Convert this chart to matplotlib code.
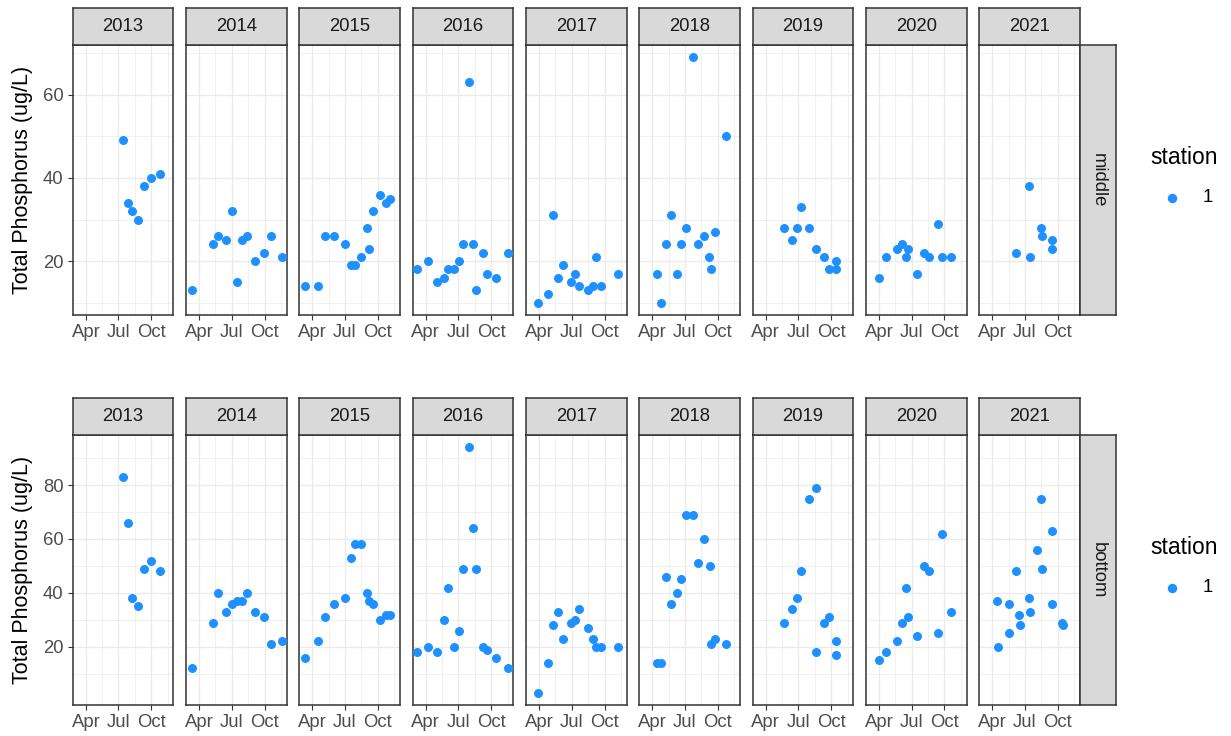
import pandas as pd
import matplotlib
matplotlib.use("Agg")
import matplotlib.pyplot as plt
from matplotlib.lines import Line2D

plt.rcParams["font.family"] = ["Liberation Sans", "DejaVu Sans"]

# Total phosphorus, station 1, by sampling date
mid_dates = [
    "2013-07-15", "2013-07-28", "2013-08-08", "2013-08-25", "2013-09-11", "2013-09-30", "2013-10-24",
    "2014-03-13", "2014-05-10", "2014-05-23", "2014-06-14", "2014-07-01", "2014-07-17", "2014-07-29",
    "2014-08-14", "2014-09-04", "2014-09-29", "2014-10-20", "2014-11-19",
    "2015-03-12", "2015-04-17", "2015-05-06", "2015-05-30", "2015-07-01", "2015-07-18", "2015-07-28",
    "2015-08-14", "2015-09-01", "2015-09-05", "2015-09-17", "2015-10-07", "2015-10-23", "2015-11-05",
    "2016-03-08", "2016-04-07", "2016-05-02", "2016-05-23", "2016-06-03", "2016-06-19", "2016-07-02",
    "2016-07-14", "2016-07-31", "2016-08-10", "2016-08-19", "2016-09-08", "2016-09-19", "2016-10-15",
    "2016-11-17",
    "2017-03-30", "2017-04-25", "2017-05-09", "2017-05-24", "2017-06-07", "2017-06-28", "2017-07-11",
    "2017-07-22", "2017-08-15", "2017-08-29", "2017-09-08", "2017-09-20", "2017-11-07",
    "2018-04-13", "2018-04-25", "2018-05-10", "2018-05-24", "2018-06-08", "2018-06-20", "2018-07-05",
    "2018-07-25", "2018-08-08", "2018-08-24", "2018-09-05", "2018-09-12", "2018-09-24", "2018-10-25",
    "2019-05-22", "2019-06-13", "2019-06-27", "2019-07-09", "2019-07-31", "2019-08-19", "2019-09-12",
    "2019-09-26", "2019-10-15", "2019-10-16",
    "2020-03-31", "2020-04-22", "2020-05-21", "2020-06-04", "2020-06-17", "2020-06-21", "2020-07-15",
    "2020-08-04", "2020-08-18", "2020-09-13", "2020-09-25", "2020-10-19",
    "2021-06-06", "2021-07-14", "2021-07-15", "2021-08-16", "2021-08-17", "2021-09-15", "2021-09-16",
]
mid_tp = [
    49, 34, 32, 30, 38, 40, 41,
    13, 24, 26, 25, 32, 15, 25, 26, 20, 22, 26, 21,
    14, 14, 26, 26, 24, 19, 19, 21, 28, 23, 32, 36, 34, 35,
    18, 20, 15, 16, 18, 18, 20, 24, 63, 24, 13, 22, 17, 16, 22,
    10, 12, 31, 16, 19, 15, 17, 14, 13, 14, 21, 14, 17,
    17, 10, 24, 31, 17, 24, 28, 69, 24, 26, 21, 18, 27, 50,
    28, 25, 28, 33, 28, 23, 21, 18, 18, 20,
    16, 21, 23, 24, 21, 23, 17, 22, 21, 29, 21, 21,
    22, 38, 21, 28, 26, 25, 23,
]

bot_dates = [
    "2013-07-15", "2013-07-28", "2013-08-08", "2013-08-25", "2013-09-11", "2013-09-30", "2013-10-24",
    "2014-03-13", "2014-05-10", "2014-05-23", "2014-06-14", "2014-07-01", "2014-07-16", "2014-07-30",
    "2014-08-14", "2014-09-04", "2014-09-29", "2014-10-20", "2014-11-19",
    "2015-03-12", "2015-04-17", "2015-05-06", "2015-05-30", "2015-07-01", "2015-07-18", "2015-07-28",
    "2015-08-16", "2015-09-01", "2015-09-05", "2015-09-17", "2015-10-07", "2015-10-23", "2015-11-05",
    "2016-03-08", "2016-04-07", "2016-05-02", "2016-05-23", "2016-06-03", "2016-06-19", "2016-07-02",
    "2016-07-14", "2016-07-31", "2016-08-10", "2016-08-19", "2016-09-08", "2016-09-19", "2016-10-15",
    "2016-11-17",
    "2017-03-30", "2017-04-25", "2017-05-09", "2017-05-24", "2017-06-07", "2017-06-28", "2017-07-11",
    "2017-07-22", "2017-08-15", "2017-08-29", "2017-09-08", "2017-09-20", "2017-11-07",
    "2018-04-13", "2018-04-25", "2018-05-10", "2018-05-24", "2018-06-08", "2018-06-20", "2018-07-05",
    "2018-07-25", "2018-08-08", "2018-08-24", "2018-09-08", "2018-09-12", "2018-09-24", "2018-10-25",
    "2019-05-22", "2019-06-13", "2019-06-27", "2019-07-09", "2019-07-31", "2019-08-19", "2019-08-20",
    "2019-09-12", "2019-09-26", "2019-10-14", "2019-10-15",
    "2020-03-31", "2020-04-22", "2020-05-21", "2020-06-04", "2020-06-17", "2020-06-21", "2020-07-15",
    "2020-08-04", "2020-08-18", "2020-09-13", "2020-09-25", "2020-10-19",
    "2021-04-15", "2021-04-16", "2021-05-17", "2021-05-18", "2021-06-06", "2021-06-16", "2021-06-17",
    "2021-07-14", "2021-07-15", "2021-08-04", "2021-08-16", "2021-08-17", "2021-09-15", "2021-09-16",
    "2021-10-14", "2021-10-16",
]
bot_tp = [
    83, 66, 38, 35, 49, 52, 48,
    12, 29, 40, 33, 36, 37, 37, 40, 33, 31, 21, 22,
    16, 22, 31, 36, 38, 53, 58, 58, 40, 37, 36, 30, 32, 32,
    18, 20, 18, 30, 42, 20, 26, 49, 94, 64, 49, 20, 19, 16, 12,
    3, 14, 28, 33, 23, 29, 30, 34, 27, 23, 20, 20, 20,
    14, 14, 46, 36, 40, 45, 69, 69, 51, 60, 50, 21, 23, 21,
    29, 34, 38, 48, 75, 79, 18, 29, 31, 17, 22,
    15, 18, 22, 29, 42, 31, 24, 50, 48, 25, 62, 33,
    37, 20, 36, 25, 48, 32, 28, 38, 33, 56, 75, 49, 36, 63, 29, 28,
]

years = list(range(2013, 2022))
rows = ["middle", "bottom"]
y_major = {"middle": [20, 40, 60], "bottom": [20, 40, 60, 80]}
y_minor = {"middle": [10, 30, 50, 70], "bottom": [10, 30, 50, 70, 90]}


def to_frame(dates, vals):
    d = pd.to_datetime(dates)
    df = pd.DataFrame({"year": d.year, "tp": vals})
    # day of year on a common non-leap calendar
    df["doy"] = pd.to_datetime("2001-" + d.strftime("%m-%d")).dayofyear
    return df


data = {"middle": to_frame(mid_dates, mid_tp), "bottom": to_frame(bot_dates, bot_tp)}

x_major = [pd.Timestamp(f"2001-{m:02d}-01").dayofyear for m in (4, 7, 10)]
x_minor = [(x_major[0] + x_major[1]) / 2, (x_major[1] + x_major[2]) / 2,
           x_major[2] + (x_major[2] - x_major[1]) / 2]

all_doy = pd.concat([data["middle"]["doy"], data["bottom"]["doy"]])
span = all_doy.max() - all_doy.min()
xlim = (all_doy.min() - 0.05 * span, all_doy.max() + 0.05 * span)

W, H = 1231, 736
fig = plt.figure(figsize=(W / 100, H / 100), dpi=100)


def px_axes(x0, y0, x1, y1):
    return fig.add_axes([x0 / W, 1 - y1 / H, (x1 - x0) / W, (y1 - y0) / H])


edge = "#333333"
strip_fill = "#D9D9D9"
grid_col = "#EBEBEB"
point_col = "#1E90FF"

panel_top = {"middle": 45, "bottom": 435}
panel_h = 270
strip_h = 37
left0, pw, step = 72.7, 100.7, 113.3

for row in rows:
    df = data[row]
    lo, hi = df["tp"].min(), df["tp"].max()
    ylim = (lo - 0.05 * (hi - lo), hi + 0.05 * (hi - lo))
    top = panel_top[row]
    for i, yr in enumerate(years):
        x0 = left0 + i * step
        ax = px_axes(x0, top, x0 + pw, top + panel_h)
        sub = df[df["year"] == yr]
        ax.scatter(sub["doy"], sub["tp"], s=42, color=point_col, linewidths=0, zorder=3)
        ax.set_xlim(xlim)
        ax.set_ylim(ylim)
        ax.set_xticks(x_major)
        ax.set_xticks(x_minor, minor=True)
        ax.set_xticklabels(["Apr", "Jul", "Oct"])
        ax.set_yticks(y_major[row])
        ax.set_yticks(y_minor[row], minor=True)
        ax.grid(True, which="major", color=grid_col, lw=1.0, zorder=0)
        ax.grid(True, which="minor", color=grid_col, lw=0.5, zorder=0)
        ax.set_axisbelow(True)
        ax.tick_params(which="major", length=3.5, width=0.8, color=edge,
                       labelsize=13.3, labelcolor="#4D4D4D", pad=3)
        ax.tick_params(which="minor", length=0)
        if i > 0:
            ax.tick_params(axis="y", which="major", length=0, labelleft=False)
        for sp in ax.spines.values():
            sp.set_color(edge)
            sp.set_linewidth(1.1)
        if i == 0:
            ax.set_ylabel("Total Phosphorus (ug/L)", fontsize=15.5, color="black", labelpad=7)

        # year strip on top
        sx = px_axes(x0, top - strip_h, x0 + pw, top)
        sx.set_facecolor(strip_fill)
        sx.set_xticks([])
        sx.set_yticks([])
        for sp in sx.spines.values():
            sp.set_color(edge)
            sp.set_linewidth(1.1)
        sx.text(0.5, 0.5, str(yr), ha="center", va="center", fontsize=13.3,
                color="#1A1A1A", transform=sx.transAxes)

    # depth strip on the right
    rx0 = left0 + 8 * step + pw
    rs = px_axes(rx0, top, rx0 + 36, top + panel_h)
    rs.set_facecolor(strip_fill)
    rs.set_xticks([])
    rs.set_yticks([])
    for sp in rs.spines.values():
        sp.set_color(edge)
        sp.set_linewidth(1.1)
    rs.text(0.5, 0.5, row, ha="center", va="center", rotation=-90, fontsize=13.3,
            color="#1A1A1A", transform=rs.transAxes)

    # legend
    fig.text(1150 / W, 1 - (top + 112) / H, "station", fontsize=16.5, ha="left", va="center")
    fig.add_artist(Line2D([1172 / W], [1 - (top + 153) / H], marker="o", markersize=6.8,
                          color=point_col, markeredgewidth=0, linestyle="none",
                          transform=fig.transFigure))
    fig.text(1203 / W, 1 - (top + 153) / H, "1", fontsize=13.3, ha="left", va="center")

plt.savefig("out.png", dpi=100)
